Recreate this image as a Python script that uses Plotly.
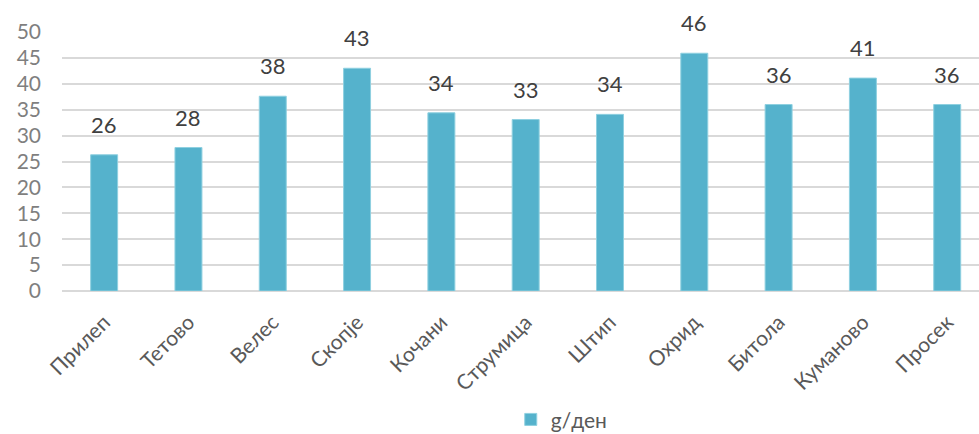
import plotly.graph_objects as go

categories = ["Прилеп", "Тетово", "Велес", "Скопје", "Кочани", "Струмица",
              "Штип", "Охрид", "Битола", "Куманово", "Просек"]
values = [26.3, 27.7, 37.6, 43.0, 34.4, 33.1, 34.1, 45.9, 36.0, 41.1, 36.0]
series_name = "g/ден"
y_ticks = [0, 5, 10, 15, 20, 25, 30, 35, 40, 45, 50]

BAR = "#55B2CC"
FONT = "Lato"

fig = go.Figure()
fig.add_trace(go.Bar(
    x=list(range(len(categories))), y=values, name=series_name,
    marker=dict(color=BAR, line=dict(color="#8FD0E0", width=1)),
    width=0.32,
    hoverinfo="skip",
))

for i, v in enumerate(values):
    fig.add_annotation(x=i, y=v, text=f"{v:.0f}", showarrow=False,
                       xanchor="center", yanchor="bottom", yshift=15,
                       font=dict(family=FONT, size=22, color="#404040"))

fig.update_layout(
    width=979, height=434,
    margin=dict(l=62, r=0, t=32, b=143, autoexpand=False),
    paper_bgcolor="white", plot_bgcolor="white",
    font=dict(family=FONT, color="#595959"),
    showlegend=True,
    legend=dict(orientation="h", x=0.545, xanchor="center", y=-0.418, yanchor="top",
                font=dict(family=FONT, size=21, color="#595959"),
                itemwidth=30, tracegroupgap=0),
    xaxis=dict(
        range=[-0.5, 10.377], automargin=False,
        tickmode="array", tickvals=list(range(len(categories))), ticktext=categories,
        tickangle=-45, tickfont=dict(family=FONT, size=21, color="#595959"),
        showgrid=False, zeroline=False, showline=False, ticks="",
        ticklabelstandoff=14,
    ),
    yaxis=dict(
        range=[0, 50], tickmode="array", tickvals=y_ticks, automargin=False,
        tickfont=dict(family=FONT, size=21, color="#7F7F7F"),
        showgrid=True, gridcolor="#D9D9D9", gridwidth=2,
        zeroline=True, zerolinecolor="#D9D9D9", zerolinewidth=2,
        showline=False, ticks="", ticklabelstandoff=20,
    ),
)

fig.write_html(
    "out.html",
    config={"displayModeBar": False},
    post_script="document.body.style.margin='0';document.body.style.overflow='hidden';"
                "document.documentElement.style.overflow='hidden';",
)
